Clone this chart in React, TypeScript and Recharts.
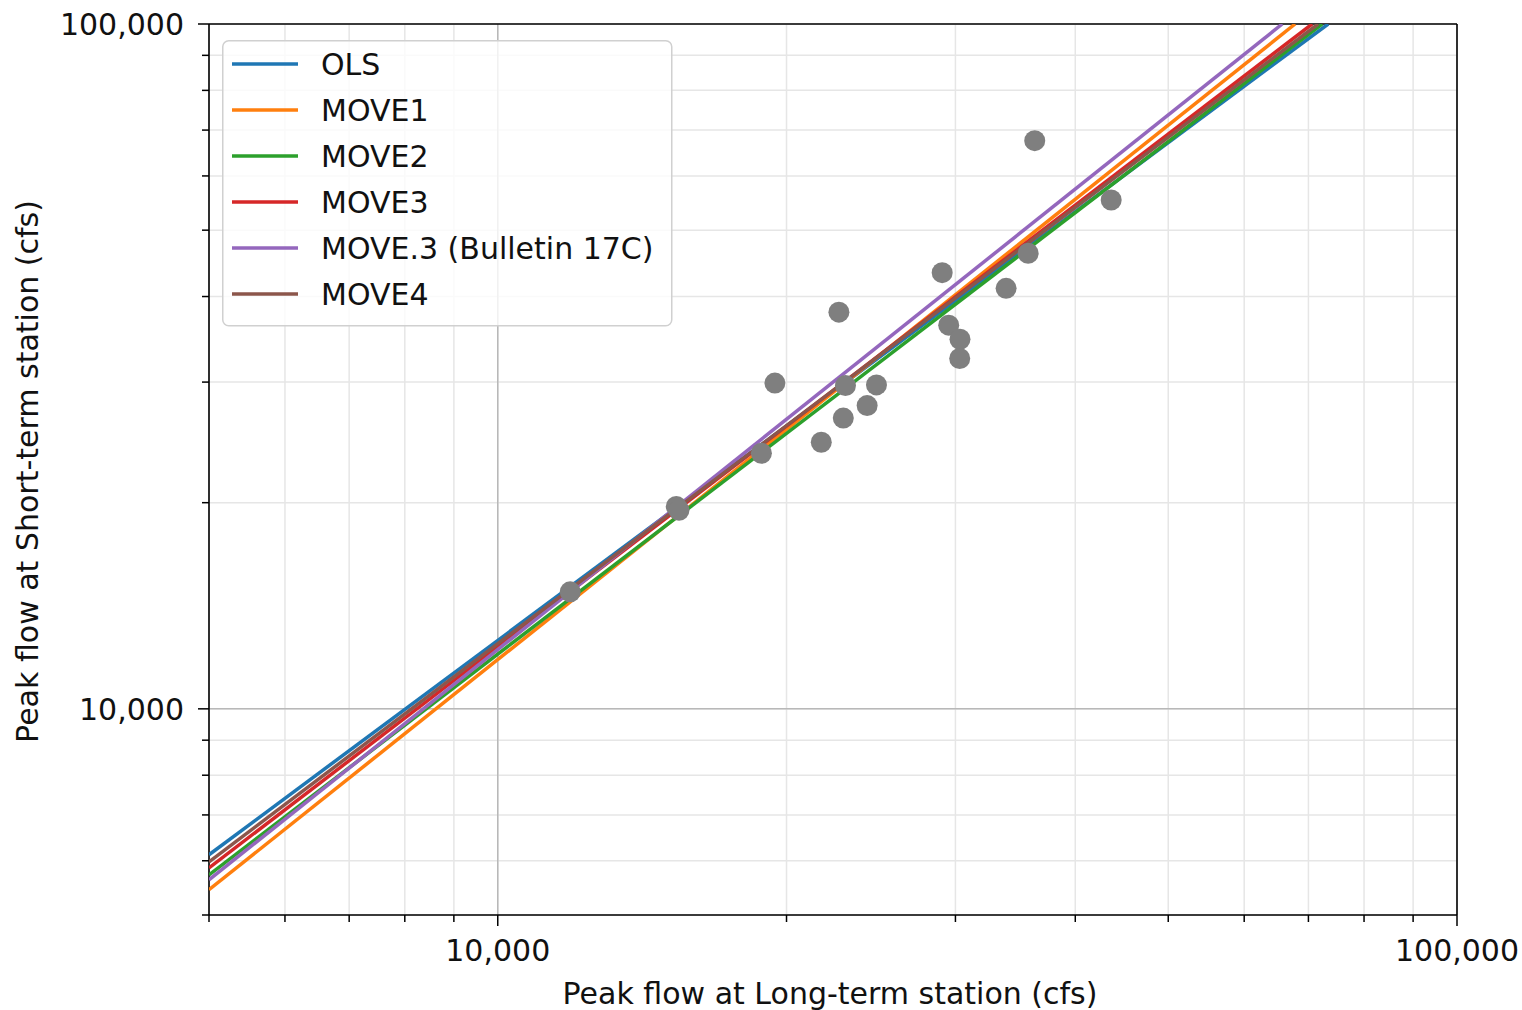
import React from 'react';
import {
  ScatterChart,
  Scatter,
  XAxis,
  YAxis,
  CartesianGrid,
  ReferenceLine,
} from 'recharts';

// ---- Data ----
// Observed concurrent peak flows (cfs)
const pointsLongTerm = [
  11900, 15350, 15450, 18830, 19450, 21740, 22680, 22920, 23040, 24270,
  24820, 29060, 29520, 30330, 30310, 33880, 35720, 36290, 43600,
];
const pointsShortTerm = [
  14820, 19750, 19500, 23620, 29900, 24510, 37950, 26580, 29650, 27720,
  29720, 43340, 36330, 34650, 32480, 41120, 46270, 67560, 55330,
];

// Regression lines: value at x = 5,000 and x where the line reaches y = 100,000
const lineNames = ['OLS', 'MOVE1', 'MOVE2', 'MOVE3', 'MOVE.3 (Bulletin 17C)', 'MOVE4'];
const lineColors = ['#1f77b4', '#ff7f0e', '#2ca02c', '#d62728', '#9467bd', '#8c564b'];
const lineStartX = 5000;
const lineStartY = [6123, 5443, 5723, 5859, 5628, 5978];
const lineEndY = 100000;
const lineEndX = [73400, 67800, 72340, 70630, 65740, 71650];

// Axes
const axisDomain = [5000, 100000];
const axisTicks = [5000, 6000, 7000, 8000, 9000, 10000, 20000, 30000, 40000, 50000, 60000, 70000, 80000, 90000, 100000];
const labeledTicks = [10000, 100000];
const majorGrid = [10000];
const xTitle = 'Peak flow at Long-term station (cfs)';
const yTitle = 'Peak flow at Short-term station (cfs)';

const pointData = pointsLongTerm.map((x, i) => ({ x, y: pointsShortTerm[i] }));
const lineData = lineNames.map((_, i) => [
  { x: lineStartX, y: lineStartY[i] },
  { x: lineEndX[i], y: lineEndY },
]);

const FONT = '"DejaVu Sans", Verdana, sans-serif';
const FS = 30;
const fmt = (v: number) => v.toLocaleString('en-US');

const XTick = (props: any) => {
  const { x, y, payload } = props;
  const v = payload.value;
  const major = labeledTicks.includes(v) || majorGrid.includes(v);
  return (
    <g>
      <line x1={x} x2={x} y1={y} y2={y + (major ? 11 : 7)} stroke="#000" strokeWidth={1.5} />
      {labeledTicks.includes(v) && (
        <text x={x} y={y + 46} textAnchor="middle" fontFamily={FONT} fontSize={FS} fill="#111">
          {fmt(v)}
        </text>
      )}
    </g>
  );
};

const YTick = (props: any) => {
  const { x, y, payload } = props;
  const v = payload.value;
  const major = labeledTicks.includes(v) || majorGrid.includes(v);
  return (
    <g>
      <line x1={x - (major ? 11 : 7)} x2={x} y1={y} y2={y} stroke="#000" strokeWidth={1.5} />
      {labeledTicks.includes(v) && (
        <text x={x - 25} y={y + 11} textAnchor="end" fontFamily={FONT} fontSize={FS} fill="#111">
          {fmt(v)}
        </text>
      )}
    </g>
  );
};

const XLabel = (props: any) => {
  const vb = props.viewBox || { x: 209, y: 915, width: 1248, height: 95 };
  return (
    <text x={vb.x + vb.width / 2 - 3} y={vb.y + 89} textAnchor="middle" fontFamily={FONT} fontSize={FS} fill="#111">
      {xTitle}
    </text>
  );
};

const YLabel = (props: any) => {
  const vb = props.viewBox || { x: 0, y: 24, width: 209, height: 891 };
  const cx = vb.x + 38;
  const cy = vb.y + vb.height / 2 + 2;
  return (
    <text x={cx} y={cy} transform={`rotate(-90 ${cx} ${cy})`} textAnchor="middle" fontFamily={FONT} fontSize={FS} fill="#111">
      {yTitle}
    </text>
  );
};

const Legend = () => {
  const top = 40;
  const left = 222;
  const rowY = (i: number) => 24 + i * 46;
  return (
    <svg width={452} height={290} style={{ position: 'absolute', left, top, overflow: 'visible' }}>
      <rect x={0.75} y={0.75} width={449} height={285} rx={6} ry={6} fill="rgba(255,255,255,0.8)" stroke="#d0d0d0" strokeWidth={1.5} />
      {lineNames.map((n, i) => (
        <g key={n}>
          <line x1={10} x2={76} y1={rowY(i)} y2={rowY(i)} stroke={lineColors[i]} strokeWidth={3.4} />
          <text x={99} y={rowY(i) + 11} fontFamily={FONT} fontSize={FS} fill="#111">
            {n}
          </text>
        </g>
      ))}
    </svg>
  );
};

const Dot = (p: any) => <circle cx={p.cx} cy={p.cy} r={10.5} fill="#7f7f7f" />;
const NoDot = () => <g />;

export default function App() {
  return (
    <div style={{ position: 'absolute', left: 0, top: 0, width: 1522, height: 1010, background: '#fff' }}>
      <ScatterChart width={1522} height={1010} margin={{ top: 24, right: 65, bottom: 0, left: 0 }}>
        <CartesianGrid stroke="#e6e6e6" strokeWidth={1.5} />
        <ReferenceLine x={majorGrid[0]} stroke="#b8b8b8" strokeWidth={1.5} />
        <ReferenceLine y={majorGrid[0]} stroke="#b8b8b8" strokeWidth={1.5} />
        <XAxis
          dataKey="x"
          type="number"
          scale="log"
          domain={axisDomain}
          allowDataOverflow
          ticks={axisTicks}
          interval={0}
          tickSize={0}
          tickMargin={0}
          tickLine={false}
          tick={<XTick />}
          height={95}
          axisLine={{ stroke: '#000', strokeWidth: 1.6 }}
          label={XLabel}
        />
        <YAxis
          dataKey="y"
          type="number"
          scale="log"
          domain={axisDomain}
          allowDataOverflow
          ticks={axisTicks}
          interval={0}
          tickSize={0}
          tickMargin={0}
          tickLine={false}
          tick={<YTick />}
          width={209}
          axisLine={{ stroke: '#000', strokeWidth: 1.6 }}
          label={YLabel}
        />
        <ReferenceLine x={axisDomain[1]} stroke="#000" strokeWidth={1.6} />
        <ReferenceLine y={axisDomain[1]} stroke="#000" strokeWidth={1.6} />
        {lineNames.map((n, i) => (
          <Scatter
            key={n}
            name={n}
            data={lineData[i]}
            fill={lineColors[i]}
            line={{ stroke: lineColors[i], strokeWidth: 3.5 }}
            shape={NoDot}
            legendType="none"
            isAnimationActive={false}
          />
        ))}
        <Scatter name="Observed" data={pointData} fill="#7f7f7f" shape={Dot} legendType="none" isAnimationActive={false} />
      </ScatterChart>
      <Legend />
    </div>
  );
}
